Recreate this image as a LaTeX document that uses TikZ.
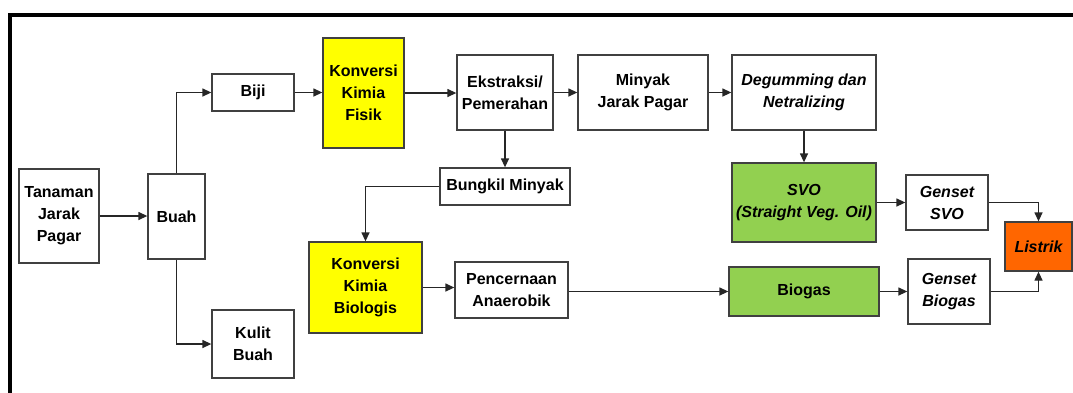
\documentclass[tikz,border=0pt]{standalone}
\usepackage{fontspec}
\setmainfont{Liberation Sans}
\usetikzlibrary{arrows.meta}
\definecolor{boxyellow}{RGB}{255,255,0}
\definecolor{boxgreen}{RGB}{146,208,80}
\definecolor{boxorange}{RGB}{255,102,0}
\begin{document}
\begin{tikzpicture}
[x=1pt,y=-1pt,
  nodedecorate/.style={shape=rectangle,draw=black!75,line width=1.3pt,fill=white,
    align=center,inner sep=0pt,
    font=\fontsize{16}{22}\selectfont\bfseries},%
  linedecorate/.style={-{Triangle[length=9pt,width=8pt]},line width=1.3pt,black!85}]
\useasboundingbox (0,0) rectangle (1073,392);
%% frame
\draw[line width=4pt] (10,395) -- (10,15) -- (1076,15);
%% nodes or vertices
\node (tanaman) at (59,216) [nodedecorate,minimum width=80,minimum height=94] {Tanaman\\Jarak\\Pagar};
\node (buah) at (176.5,216.5) [nodedecorate,minimum width=57,minimum height=85] {Buah};
\node (biji) at (253,92.5) [nodedecorate,minimum width=82,minimum height=37] {Biji};
\node (kulit) at (253,344) [nodedecorate,minimum width=82,minimum height=68] {Kulit\\Buah};
\node (fisik) at (363.5,93) [nodedecorate,fill=boxyellow,minimum width=81,minimum height=110] {Konversi\\Kimia\\Fisik};
\node (ekstraksi) at (505,92.5) [nodedecorate,minimum width=96,minimum height=75] {Ekstraksi/\\Pemerahan};
\node (minyak) at (643,92.5) [nodedecorate,minimum width=130,minimum height=75] {Minyak\\Jarak Pagar};
\node (degumming) at (804,92.5) [nodedecorate,minimum width=144,minimum height=75] {\itshape Degumming dan\\\itshape Netralizing};
\node (bungkil) at (505,186.5) [nodedecorate,minimum width=130,minimum height=37] {Bungkil Minyak};
\node (biologis) at (365.5,287.5) [nodedecorate,fill=boxyellow,minimum width=113,minimum height=91] {Konversi\\Kimia\\Biologis};
\node (pencernaan) at (511.5,290) [nodedecorate,minimum width=113,minimum height=56] {Pencernaan\\Anaerobik};
\node (svo) at (804,202.5) [nodedecorate,fill=boxgreen,minimum width=144,minimum height=79] {\itshape SVO\\\itshape (Straight Veg. Oil)};
\node (gensetsvo) at (947,202.5) [nodedecorate,minimum width=82,minimum height=55] {\itshape Genset\\\itshape SVO};
\node (biogas) at (804,291.5) [nodedecorate,fill=boxgreen,minimum width=150,minimum height=49] {Biogas};
\node (gensetbiogas) at (949,291.5) [nodedecorate,minimum width=82,minimum height=65] {\itshape Genset\\\itshape Biogas};
\node (listrik) at (1038.5,246.5) [nodedecorate,fill=boxorange,minimum width=67,minimum height=49] {\itshape Listrik};
%% edges or lines
\path
\foreach \startnode/\endnode in {tanaman/buah, biji/fisik, fisik/ekstraksi,
  ekstraksi/minyak, minyak/degumming, svo/gensetsvo, biogas/gensetbiogas} {
  (\startnode.east) edge[linedecorate] (\startnode.east -| \endnode.west)
};
\path
\foreach \startnode/\endnode in {ekstraksi/bungkil, degumming/svo} {
  (\startnode) edge[linedecorate] (\endnode)
};
\draw[linedecorate] (buah.north) |- (biji.west);
\draw[linedecorate] (buah.south) |- (kulit.west);
\draw[linedecorate] (bungkil.west) -| (biologis.north);
\draw[linedecorate] (biologis.east) -- (biologis.east -| pencernaan.west);
\draw[linedecorate] (biogas.west -| pencernaan.east) -- (biogas.west);
\draw[linedecorate] (gensetsvo.east) -| (listrik.north);
\draw[linedecorate] (gensetbiogas.east) -| (listrik.south);
\end{tikzpicture}
\end{document}
